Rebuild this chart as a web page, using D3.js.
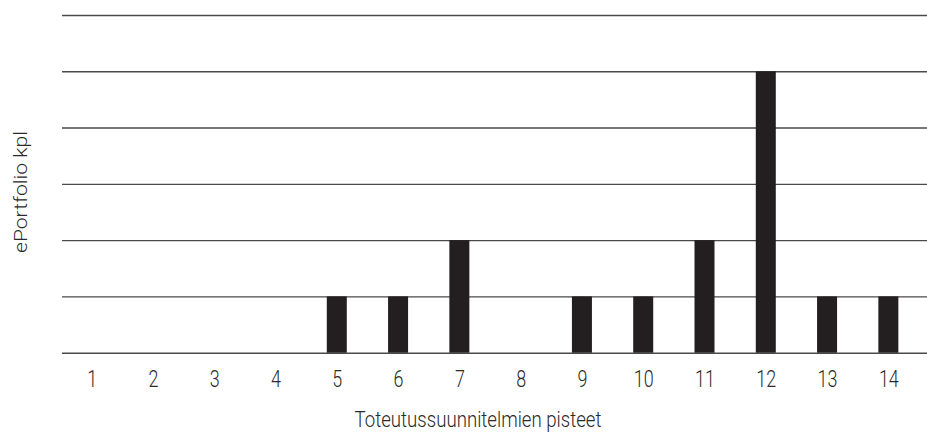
<!DOCTYPE html>
<html>
<head>
<meta charset="utf-8">
<script src="https://cdn.jsdelivr.net/npm/d3@7"></script>
<style>
  html, body { margin: 0; padding: 0; background: #fff; }
  svg { display: block; }
  text { font-family: Roboto, "Liberation Sans", sans-serif; font-weight: 300; fill: #2a2a2a; }
</style>
</head>
<body>
<svg id="chart" width="927" height="433"></svg>
<script>
const categories = ["1","2","3","4","5","6","7","8","9","10","11","12","13","14"];
const values = [0,0,0,0,1,1,2,0,1,1,2,5,1,1];
const yTicks = [0,1,2,3,4,5,6];
const xTitle = "Toteutussuunnitelmien pisteet";
const yTitle = "ePortfolio kpl";

const svg = d3.select("#chart");

const x = d3.scalePoint().domain(categories).range([61, 919]).padding(0.5);
const y = d3.scaleLinear().domain([0, 6]).range([352.7, 15]);

// gridlines
const grid = svg.append("g").attr("transform", "translate(927,0)")
  .call(d3.axisLeft(y).tickValues(yTicks).tickSize(927 - 62).tickFormat(""));
grid.select(".domain").remove();
grid.selectAll(".tick line").attr("stroke", "#4a4a4a").attr("stroke-width", 1.4);

// bars
const bw = 20;
svg.append("g").selectAll("rect").data(values).join("rect")
  .attr("x", (d, i) => x(categories[i]) - bw / 2)
  .attr("y", d => y(d))
  .attr("width", bw)
  .attr("height", d => y(0) - y(d))
  .attr("fill", "#231f20");

// x axis labels
const xAxis = svg.append("g").attr("transform", "translate(0,370)")
  .call(d3.axisBottom(x).tickSize(0).tickPadding(0));
xAxis.select(".domain").remove();
xAxis.selectAll(".tick text")
  .attr("dy", "0")
  .attr("y", 17)
  .attr("fill", "#2a2a2a")
  .style("font-size", "23px")
  .style("font-family", "Roboto, sans-serif")
  .style("font-weight", 300)
  .attr("transform", "scale(0.78,1)");

// x title
svg.append("text")
  .attr("x", 478).attr("y", 427)
  .attr("text-anchor", "middle")
  .style("font-size", "22px")
  .attr("textLength", 247).attr("lengthAdjust", "spacingAndGlyphs")
  .text(xTitle);

// y title
svg.append("text")
  .attr("transform", "translate(27,192) rotate(-90)")
  .attr("text-anchor", "middle")
  .style("font-size", "19px")
  .attr("textLength", 122).attr("lengthAdjust", "spacingAndGlyphs")
  .text(yTitle);
</script>
</body>
</html>
